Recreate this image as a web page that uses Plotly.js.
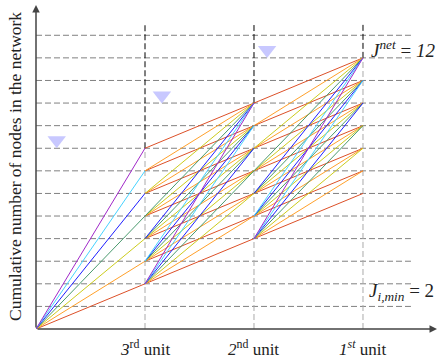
<!DOCTYPE html>
<html><head><meta charset="utf-8">
<script src="https://cdn.plot.ly/plotly-3.0.1.min.js"></script>
<style>html,body{margin:0;padding:0;background:#fff}#chart{width:437px;height:358px}</style>
</head><body><div id="chart"></div>
<script>
// ---- data ----
const unitLabels = ['<i>3</i><sup>rd</sup> unit', '<i>2</i><sup>nd</sup> unit', '<i>1<sup>st</sup></i> unit'];
const stageX = [0, 1, 2, 3];
const stageLevels = [
  [0],
  [2, 3, 4, 5, 6, 7, 8],
  [4, 5, 6, 7, 8, 9, 10],
  [6, 7, 8, 9, 10, 11, 12]
];
const increments = [2, 3, 4, 5, 6, 7, 8];
const incColors = ['#dc5028', '#ffa02a', '#cccc1e', '#4a9a6e', '#1e1eff', '#46d2ff', '#a028c8'];
const gridLevels = [1, 2, 3, 4, 5, 6, 7, 8, 9, 10, 11, 12, 13];
const markerX = [0.19, 1.155, 2.12];
const markerY = [8.35, 10.33, 12.35];
const jNet = 12, jMin = 2;

const XMAX = 3.679, YMAX = 14.34, HLINE_END = 3.44, VLINE_TOP = 13.54;

const traces = [];
const hx = [], hy = [];
gridLevels.forEach(l => { hx.push(0, HLINE_END, null); hy.push(l, l, null); });
traces.push({x: hx, y: hy, mode: 'lines', line: {color: '#808080', width: 1, dash: '6px,3px'}, hoverinfo: 'skip'});
const vgx = [], vgy = [], vbx = [], vby = [];
for (let s = 1; s < stageX.length; s++) {
  const top = Math.max(...stageLevels[s]);
  vgx.push(stageX[s], stageX[s], null); vgy.push(0, top, null);
  vbx.push(stageX[s], stageX[s], null); vby.push(top, VLINE_TOP, null);
}
traces.push({x: vgx, y: vgy, mode: 'lines', line: {color: '#aaa', width: 1, dash: '6px,3px'}, hoverinfo: 'skip'});
traces.push({x: vbx, y: vby, mode: 'lines', line: {color: '#000', width: 1, dash: '6px,3px'}, hoverinfo: 'skip'});

increments.forEach((d, i) => {
  const ex = [], ey = [];
  for (let s = 0; s < stageLevels.length - 1; s++) {
    stageLevels[s].forEach(a => {
      stageLevels[s + 1].forEach(b => {
        if (b - a === d) { ex.push(stageX[s], stageX[s + 1], null); ey.push(a, b, null); }
      });
    });
  }
  traces.push({x: ex, y: ey, mode: 'lines', line: {color: incColors[i], width: 1}, hoverinfo: 'skip'});
});

traces.push({x: markerX, y: markerY, mode: 'markers',
  marker: {symbol: 'triangle-down', size: 16, color: '#c8c8ff', line: {width: 0}}, hoverinfo: 'skip'});

const FAM = 'Liberation Serif';
const mk = (size) => ({family: FAM, size: size, color: '#222'});
const annotations = [];
unitLabels.forEach((t, i) => annotations.push({
  x: stageX[i + 1], y: 0, xref: 'x', yref: 'y', text: t, showarrow: false,
  yanchor: 'top', yshift: -6, font: mk(17)
}));
annotations.push({x: 3, y: jNet, xref: 'x', yref: 'y', xanchor: 'left', yanchor: 'middle', xshift: 6, yshift: 9,
  text: '<i>J</i><sup><i>net</i></sup> = <i>12</i>', showarrow: false, font: mk(19)});
annotations.push({x: 3, y: 1.65, xref: 'x', yref: 'y', xanchor: 'left', yanchor: 'middle', xshift: 4,
  text: '<i>J</i><sub><i>i,min</i></sub> = ' + jMin, showarrow: false, font: mk(19)});
annotations.push({x: 0, y: 0.5, xref: 'paper', yref: 'paper', xanchor: 'center', yanchor: 'middle', xshift: -21, textangle: -90, showarrow: false,
  text: 'Cumulative number of nodes in the network', font: mk(17.5)});
annotations.push({x: 0, y: YMAX, ax: 0, ay: 0, xref: 'x', yref: 'y', axref: 'x', ayref: 'y', text: '',
  showarrow: true, arrowhead: 2, arrowsize: 1, arrowwidth: 1.5, arrowcolor: '#444'});
annotations.push({x: XMAX, y: 0, ax: 0, ay: 0, xref: 'x', yref: 'y', axref: 'x', ayref: 'y', text: '',
  showarrow: true, arrowhead: 2, arrowsize: 1, arrowwidth: 1.5, arrowcolor: '#444'});

const layout = {
  width: 437, height: 358, showlegend: false,
  font: {family: FAM},
  margin: {l: 36, r: 0, t: 5, b: 29, pad: 0},
  paper_bgcolor: '#fff', plot_bgcolor: '#fff',
  xaxis: {range: [0, XMAX], showgrid: false, zeroline: false, showticklabels: false, ticks: '', showline: false, fixedrange: true},
  yaxis: {range: [0, YMAX], showgrid: false, zeroline: false, showticklabels: false, ticks: '', showline: false, fixedrange: true},
  annotations: annotations
};
Plotly.newPlot('chart', traces, layout, {staticPlot: true, displayModeBar: false});
</script></body></html>
